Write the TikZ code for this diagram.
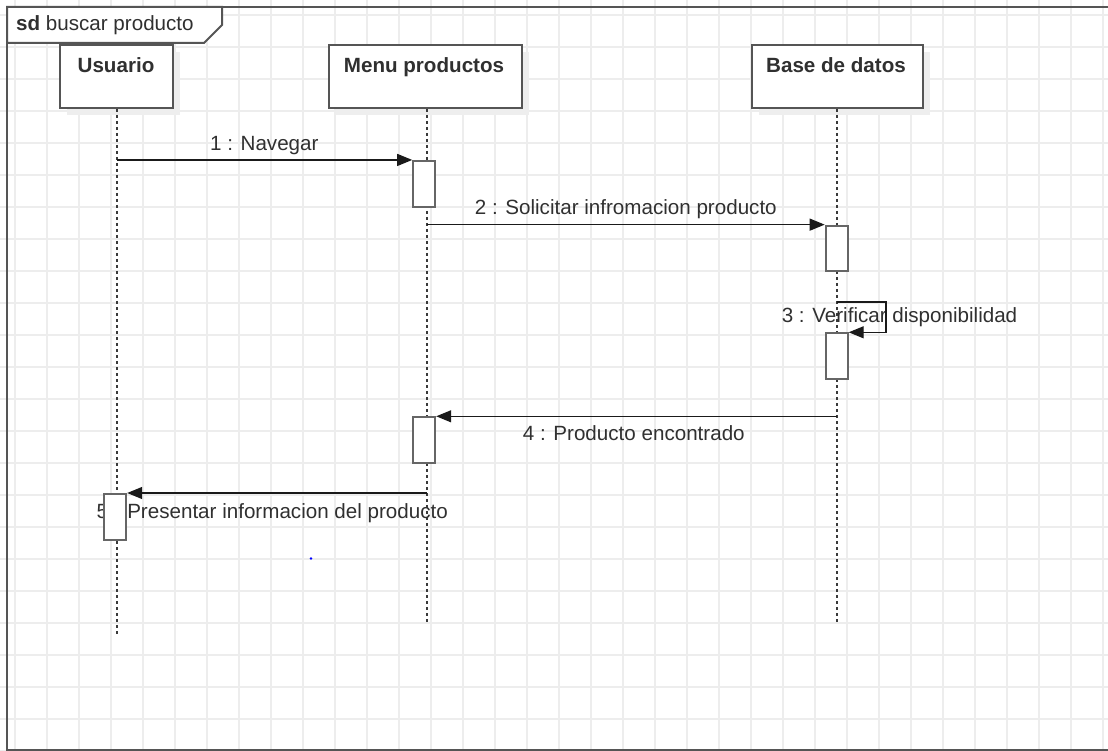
\documentclass[tikz,border=0pt]{standalone}
\usepackage{fontspec}
\setmainfont{Liberation Sans}
\usetikzlibrary{arrows.meta,shadows}

\definecolor{gridc}{HTML}{EDEDED}
\definecolor{framec}{HTML}{555555}
\definecolor{actc}{HTML}{666666}
\definecolor{lifec}{HTML}{3A3A3A}
\definecolor{msgc}{HTML}{1A1A1A}
\definecolor{txtc}{HTML}{303030}
\definecolor{shadowc}{HTML}{EEEEEE}

\begin{document}
\begin{tikzpicture}[x=1pt,y=-1pt,
  font=\fontsize{20.6}{24}\selectfont,
  gridline/.style={draw=gridc,line width=1.3pt},
  frameline/.style={draw=framec,line width=2pt},
  head/.style={draw=framec,line width=2pt,fill=white,inner sep=0pt,
    minimum width=#1,minimum height=63pt,
    general shadow={fill=shadowc,shadow xshift=7pt,shadow yshift=-7pt}},
  headtext/.style={anchor=base,text=txtc,font=\fontsize{20.6}{24}\selectfont\bfseries,inner sep=0pt},
  act/.style={draw=actc,line width=2pt,fill=white,inner sep=0pt,
    minimum width=22pt,minimum height=#1},
  lifeline/.style={draw=lifec,line width=1.7pt,dash pattern=on 3pt off 3pt},
  msg/.style={draw=msgc,line width=1.2pt,-{Triangle[length=15pt,width=12pt]}},
  msglabel/.style={anchor=base,text=txtc,inner sep=0pt}
]
\useasboundingbox (0,0) rectangle (1108,751);
\clip (0,0) rectangle (1108,751);

% background grid
\foreach \gx in {15,47,...,1103} \draw[gridline] (\gx,0) -- (\gx,751);
\foreach \gy in {15,47,...,751} \draw[gridline] (0,\gy) -- (1108,\gy);

% interaction frame and its name tab
\draw[frameline] (1120,7) -- (7,7) -- (7,749.5) -- (1120,749.5);
\filldraw[frameline,fill=white] (7,7) -- (222,7) -- (222,25) -- (204,43) -- (7,43) -- cycle;
\node[msglabel,anchor=base west] (title) at (16,31) {{\bfseries sd} buscar producto};

% lifeline heads
\node[head=113pt] (usr) at (116,76.5) {};
\node[head=193pt] (mnu) at (425,76.5) {};
\node[head=171pt] (bdd) at (837,76.5) {};
\node[headtext] (usrT) at (116,73) {Usuario};
\node[headtext] (mnuT) at (424,73) {Menu productos};
\node[headtext] (bddT) at (836,73) {Base de datos};

% lifelines
\draw[lifeline] ([xshift=1pt]usr.south) -- ++(0,525);
\draw[lifeline] ([xshift=2pt]mnu.south) -- ++(0,514);
\draw[lifeline] (bdd.south) -- ++(0,515);

% message labels
\node[msglabel] (l1) at (264.3,151) {1 : Navegar};
\node[msglabel] (l2) at (625.8,214.5) {2 : Solicitar infromacion producto};
\node[msglabel] (l3) at (899.5,323) {3 : Verificar disponibilidad};
\node[msglabel] (l4) at (633.8,440) {4 : Producto encontrado};
\node[msglabel] (l5) at (272.3,518) {5 : Presentar informacion del producto};

% activation bars
\node[act=45.7pt] (a1) at (424.2,183.8) {};
\node[act=45.3pt] (a2) at (836.7,248.3) {};
\node[act=46pt]   (a3) at (836.7,356.3) {};
\node[act=46pt]   (a4) at (424.2,440.3) {};
\node[act=46pt]   (a5) at (115.2,517) {};

% messages
\coordinate (m3turn) at (886,302);
\draw[msg] ([xshift=1pt]usr.south |- a1.north west) -- (a1.north west);
\draw[msg] ([xshift=2pt]mnu.south |- a2.north west) -- (a2.north west);
\draw[msg] (bdd.south |- m3turn) -- (m3turn) |- (a3.north east);
\draw[msg] (bdd.south |- a4.north east) -- (a4.north east);
\draw[msg] ([xshift=2pt]mnu.south |- a5.north east) -- (a5.north east);

% stray point
\fill[blue] (311,558.5) circle (1.3pt);
\end{tikzpicture}
\end{document}
